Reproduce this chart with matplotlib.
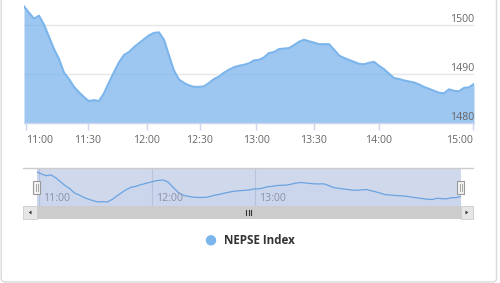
import numpy as np
import matplotlib
matplotlib.use("Agg")
import matplotlib.pyplot as plt
from matplotlib.patches import Rectangle, FancyBboxPatch, Circle, Polygon
from matplotlib.lines import Line2D

# ---------------- data ----------------
series_name = "NEPSE Index"
index_values = [
    1503.7, 1502.4, 1501.2, 1501.8, 1500.0, 1497.5, 1495.0, 1493.0, 1490.2, 1488.9,
    1487.3, 1486.2, 1485.2, 1484.4, 1484.6, 1484.4, 1486.0, 1488.2, 1490.3, 1492.3,
    1493.8, 1494.4, 1495.4, 1496.2, 1497.0, 1497.8, 1498.3, 1498.4, 1496.9, 1493.7,
    1490.6, 1488.8, 1488.1, 1487.6, 1487.3, 1487.3, 1487.4, 1488.1, 1488.9, 1489.4,
    1490.2, 1490.8, 1491.3, 1491.6, 1491.8, 1492.1, 1492.7, 1492.8, 1493.3, 1494.2,
    1494.4, 1495.0, 1495.1, 1495.2, 1495.8, 1496.5, 1496.9, 1496.6, 1496.3, 1496.0,
    1496.0, 1496.0, 1494.9, 1493.7, 1493.2, 1492.8, 1492.4, 1492.0, 1491.9, 1492.2,
    1492.4, 1491.6, 1490.9, 1490.0, 1489.1, 1488.9, 1488.6, 1488.4, 1488.2, 1487.8,
    1487.3, 1486.9, 1486.5, 1486.1, 1486.0, 1486.8, 1486.5, 1486.4, 1487.1, 1487.2,
    1487.9,
]
# ordinal (Highstock-style) positions of the time labels
time_tick_pos = [0.4, 12.7, 24.5, 35.1, 46.4, 57.9, 70.9, 89.7]
time_tick_labels = ["11:00", "11:30", "12:00", "12:30", "13:00", "13:30", "14:00", "15:00"]
nav_tick_pos = [0.4, 24.5, 46.4]
nav_tick_labels = ["11:00", "12:00", "13:00"]
y_ticks = [1480, 1490, 1500]

# ---------------- styling ----------------
W, H = 500, 283
LINE = "#7cb5ec"
GRID = "#e6e6e6"
AXIS = "#ccd6eb"
LABEL = "#666666"
FONT = ["Open Sans", "DejaVu Sans"]
plt.rcParams["font.family"] = FONT

fig = plt.figure(figsize=(W / 100, H / 100), dpi=100)
fig.patch.set_facecolor("white")


def rect(x0, y0, x1, y1):
    return [x0 / W, 1 - y1 / H, (x1 - x0) / W, (y1 - y0) / H]


def fx(x):
    return x / W


def fy(y):
    return 1 - y / H


x = np.arange(len(index_values))
vals = np.array(index_values)

# ---------------- main chart ----------------
ax = fig.add_axes(rect(24, 0, 474, 122.7))
ax.set_xlim(0, len(vals) - 1)
ax.set_ylim(1480, 1505)
ax.set_facecolor("none")
for s in ["top", "left", "right"]:
    ax.spines[s].set_visible(False)
ax.spines["bottom"].set_color(AXIS)
ax.spines["bottom"].set_linewidth(1)
for yv in y_ticks[1:]:
    ax.axhline(yv, color=GRID, lw=1, zorder=0)
ax.fill_between(x, vals, 1480, color=LINE, alpha=0.75, lw=0, zorder=1)
ax.plot(x, vals, color=LINE, lw=1.5, zorder=2, solid_joinstyle="round")
ax.set_yticks([])
ax.set_xticks(time_tick_pos)
ax.set_xticklabels(time_tick_labels)
ax.tick_params(axis="x", length=5, width=1, color=AXIS, pad=3.5,
               labelsize=7.6, labelcolor=LABEL)
labs = ax.get_xticklabels()
labs[0].set_ha("left")
labs[-1].set_ha("right")
for yv in y_ticks:
    ax.annotate(str(yv), xy=(1.0, yv), xycoords=("axes fraction", "data"),
                xytext=(0, 1.8), textcoords="offset points",
                ha="right", va="baseline", fontsize=7.6, color=LABEL,
                annotation_clip=False)

# ---------------- navigator ----------------
NAV_L, NAV_R, NAV_T, NAV_B = 36.7, 460.7, 168.3, 205.7
nav = fig.add_axes(rect(NAV_L, NAV_T, NAV_R, NAV_B))
nav.set_xlim(0, len(vals) - 1)
nav.set_ylim(1482, 1506)
nav.set_facecolor("#d0d8ec")
for s in nav.spines.values():
    s.set_visible(False)
nav.set_xticks([])
nav.set_yticks([])
for p, lab in zip(nav_tick_pos, nav_tick_labels):
    nav.axvline(p, color="#b9c3dc", lw=0.8, zorder=1)
    nav.annotate(lab, xy=(p, 0), xycoords=("data", "axes fraction"),
                 xytext=(3, 3.5), textcoords="offset points",
                 ha="left", va="baseline", fontsize=7.6, color="#8a93a8",
                 zorder=3)
nav.fill_between(x, vals, 1482, color=LINE, alpha=0.05, lw=0, zorder=2)
nav.plot(x, vals, color="#6aa3e0", lw=0.9, zorder=2)

# outline
fig.add_artist(Line2D([fx(23.3), fx(473.3)], [fy(168.3), fy(168.3)],
                      color="#cccccc", lw=1))

# handles
for hx in (NAV_L, NAV_R):
    fig.add_artist(Rectangle((fx(hx - 3.5), fy(194)), 7 / W, 13.3 / H,
                             facecolor="#f2f2f2", edgecolor="#999999", lw=0.8))
    for dx in (-1.2, 1.2):
        fig.add_artist(Line2D([fx(hx + dx), fx(hx + dx)], [fy(184), fy(191)],
                              color="#999999", lw=0.6))

# ---------------- scrollbar ----------------
SB_T, SB_B = 205.7, 219.3
fig.add_artist(Rectangle((fx(23.3), fy(SB_B)), (473.3 - 23.3) / W, (SB_B - SB_T) / H,
                         facecolor="#f2f2f2", edgecolor="none"))
fig.add_artist(Rectangle((fx(NAV_L), fy(SB_B)), (NAV_R - NAV_L) / W, (SB_B - SB_T) / H,
                         facecolor="#cccccc", edgecolor="none"))
for bx0, bx1 in ((23.3, NAV_L), (NAV_R, 473.3)):
    fig.add_artist(Rectangle((fx(bx0), fy(SB_B)), (bx1 - bx0) / W, (SB_B - SB_T) / H,
                             facecolor="#e6e6e6", edgecolor="#cccccc", lw=0.6))
cy = (SB_T + SB_B) / 2
fig.add_artist(Polygon([(fx(31.5), fy(cy - 2)), (fx(31.5), fy(cy + 2)), (fx(28.8), fy(cy))],
                       closed=True, facecolor="#333333", edgecolor="none"))
fig.add_artist(Polygon([(fx(465.5), fy(cy - 2)), (fx(465.5), fy(cy + 2)), (fx(468.2), fy(cy))],
                       closed=True, facecolor="#333333", edgecolor="none"))
gx = (NAV_L + NAV_R) / 2
for dx in (-2.5, 0, 2.5):
    fig.add_artist(Line2D([fx(gx + dx), fx(gx + dx)], [fy(cy - 2.5), fy(cy + 2.5)],
                          color="#333333", lw=0.8))

# ---------------- legend ----------------
lg = fig.add_axes([0, 0, 1, 1], facecolor="none")
lg.set_xlim(0, W)
lg.set_ylim(H, 0)
lg.axis("off")
lg.add_patch(Circle((211, 240.3), 5.2, facecolor=LINE, edgecolor="none"))
lg.text(223.5, 240.6, series_name, ha="left", va="center", fontsize=8.4,
        fontweight="bold", color="#333333")

# outer border
lg.add_patch(FancyBboxPatch((1.2, -20), 495.3, 302, boxstyle="round,pad=0,rounding_size=4",
                            facecolor="none", edgecolor="#d9d9d9", lw=1, clip_on=False))

fig.savefig("out.png", dpi=100, facecolor="white")
